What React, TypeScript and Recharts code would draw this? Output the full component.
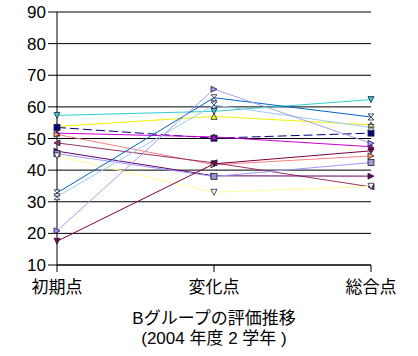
import React from "react"
import { LineChart, Line, XAxis, YAxis, CartesianGrid } from "recharts"

const categories: string[] = ["初期点", "変化点", "総合点"]
const yTicks: number[] = [10, 20, 30, 40, 50, 60, 70, 80, 90]

// one array per student
const s01: number[] = [57.3, 58.6, 62.3]
const s02: number[] = [53.8, 57.0, 54.3]
const s03: number[] = [53.5, 50.1, 51.7]
const s04: number[] = [51.7, 50.5, 47.4]
const s05: number[] = [51.3, 41.7, 44.5]
const s06: number[] = [48.6, 42.3, 34.7]
const s07: number[] = [46.0, 38.2, 38.1]
const s08: number[] = [45.2, 38.0, 42.4]
const s09: number[] = [44.5, 33.0, 34.9]
const s10: number[] = [32.8, 62.9, 56.8]
const s11: number[] = [31.6, 60.6, 53.5]
const s12: number[] = [20.8, 65.6, 48.5]
const s13: number[] = [17.5, 42.0, 46.1]

const seriesValues: number[][] = [s01, s02, s03, s04, s05, s06, s07, s08, s09, s10, s11, s12, s13]

const lineColors = [
  "#33CCCC", "#F2F200", "#000080", "#CC00CC", "#FF8080", "#993366", "#660066",
  "#9999FF", "#FFFF99", "#0066CC", "#99CCFF", "#A0A0E8", "#800040",
]
const markerFills = [
  "#33CCCC", "#FFFF00", "#000080", "#CC00CC", "#FF9966", "#993366", "#660066",
  "#9999CC", "#FFFFFF", "#FFFFFF", "#FFFFFF", "#9999FF", "#800040",
]
const markerShapes = [
  "down", "up", "square", "up", "right", "left", "right",
  "square", "down", "bowtie", "bowtie", "right", "down",
]

const data = categories.map((name, i) => {
  const row: Record<string, any> = { name }
  seriesValues.forEach((vals, j) => {
    row["s" + j] = vals[i]
  })
  return row
})

const FONT = '"Liberation Sans", "Noto Sans CJK JP", sans-serif'

const makeDot = (shape: string, fill: string, seriesIdx: number) => (props: any) => {
  const { cx, cy, index } = props
  const key = `dot-${seriesIdx}-${index}`
  if (typeof cx !== "number" || typeof cy !== "number") return <g key={key} />
  const r = 3
  const stroke = "#202040"
  let pts = ""
  if (shape === "square") {
    return <rect key={key} x={cx - r} y={cy - r} width={r * 2} height={r * 2} fill={fill} stroke={stroke} strokeWidth={0.8} />
  }
  if (shape === "down") pts = `${cx - r},${cy - r} ${cx + r},${cy - r} ${cx},${cy + r}`
  if (shape === "up") pts = `${cx - r},${cy + r} ${cx + r},${cy + r} ${cx},${cy - r}`
  if (shape === "right") pts = `${cx - r},${cy - r} ${cx - r},${cy + r} ${cx + r},${cy}`
  if (shape === "left") pts = `${cx + r},${cy - r} ${cx + r},${cy + r} ${cx - r},${cy}`
  if (shape === "bowtie") pts = `${cx - r},${cy - r} ${cx + r},${cy - r} ${cx - r},${cy + r} ${cx + r},${cy + r}`
  return <polygon key={key} points={pts} fill={fill} stroke={stroke} strokeWidth={0.8} />
}

export default function App() {
  return (
    <div style={{ position: "absolute", left: 0, top: 0, width: 418, height: 356, background: "#fff" }}>
      <LineChart width={418} height={356} data={data} margin={{ top: 12, right: 47, left: 0, bottom: 61 }}>
        <CartesianGrid vertical={false} stroke="#000" strokeWidth={1} />
        <XAxis
          dataKey="name"
          stroke="#000"
          tickSize={7}
          tickMargin={9}
          height={30}
          tick={{ fill: "#000", fontSize: 17, fontFamily: FONT }}
        />
        <YAxis
          domain={[10, 90]}
          ticks={yTicks}
          width={57}
          stroke="#000"
          tickSize={9}
          tickMargin={2}
          tick={{ fill: "#000", fontSize: 17, fontFamily: FONT }}
        />
        {seriesValues.map((_, j) => (
          <Line
            key={"s" + j}
            dataKey={"s" + j}
            type="linear"
            stroke={lineColors[j]}
            strokeWidth={1}
            strokeDasharray={j === 2 ? "9 4" : undefined}
            dot={makeDot(markerShapes[j], markerFills[j], j)}
            activeDot={false}
            isAnimationActive={false}
          />
        ))}
      </LineChart>
      <div
        style={{
          position: "absolute",
          left: 0,
          top: 309,
          width: 428,
          textAlign: "center",
          fontFamily: FONT,
          fontSize: 17,
          lineHeight: "20px",
          color: "#000",
        }}
      >
        <div>Bグループの評価推移</div>
        <div>(2004 年度 2 学年 )</div>
      </div>
    </div>
  )
}
